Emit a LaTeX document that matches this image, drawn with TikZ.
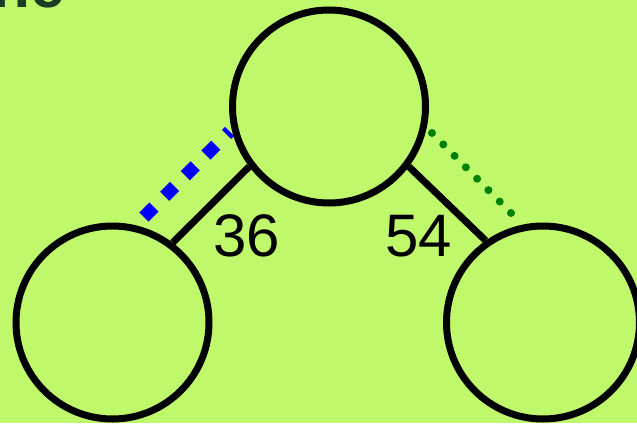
\documentclass[tikz,border=0pt]{standalone}
\usepackage{fontspec}
\setmainfont{Liberation Sans}
\definecolor{bg}{RGB}{192,248,108}
\definecolor{grn}{RGB}{0,128,0}
\definecolor{titlegreen}{RGB}{26,61,38}
\begin{document}
\begin{tikzpicture}[x=1pt,y=-1pt,
  circ/.style={circle,draw=black,line width=7pt,minimum size=193pt,inner sep=0pt},
  edgeline/.style={draw=black,line width=7pt},
  lbl/.style={font=\fontsize{60}{60}\selectfont,inner sep=0pt,text=black},
  bluedash/.style={draw=blue,line width=13pt,dash pattern=on 14pt off 15.2pt},
  greendot/.style={draw=grn,line width=8pt,line cap=round,dash pattern=on 0pt off 16.06pt}]
\fill[bg] (0,0) rectangle (637,423);
\useasboundingbox (0,0) rectangle (637,423);
% partially visible title
\node[anchor=base west,inner sep=0pt,text=titlegreen,font=\fontsize{62}{62}\selectfont\bfseries] (title) at (-7.6,7) {ne};
% angle markers
\coordinate (b1) at (144,217);
\coordinate (b2) at (229.5,131.5);
\coordinate (g1) at (432,133);
\coordinate (g2) at (511.5,213.5);
\draw[bluedash] (b1) -- (b2);
\draw[greendot] (g1) -- (g2);
% circles
\node[circ] (top) at (329,106.5) {};
\node[circ] (left) at (112.5,322.5) {};
\node[circ] (right) at (543,322.5) {};
% edges
\draw[edgeline] (top.217) -- (left.53);
\draw[edgeline] (top.323) -- (right.125);
% labels
\node[lbl] (l36) at (246.5,236) {36};
\node[lbl] (l54) at (418.5,236) {54};
\end{tikzpicture}
\end{document}
